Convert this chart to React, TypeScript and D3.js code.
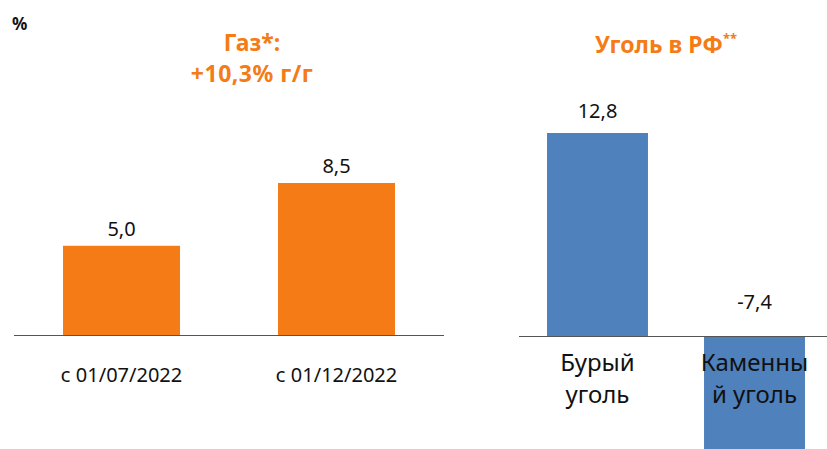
import React from "react";
import * as d3 from "d3";

const gasCategories = ["с 01/07/2022", "с 01/12/2022"];
const gasValues = [5.0, 8.5];
const coalCategories = [["Бурый", "уголь"], ["Каменны", "й уголь"]];
const coalValues = [12.8, -7.4];

const W = 827;
const H = 449;
const ORANGE = "#F47B16";
const BLUE = "#4F81BD";
const fmt = (v: number) => v.toFixed(1).replace(".", ",");

export default function App() {
  const xGas = d3.scaleBand<string>().domain(gasCategories).range([14, 444]).paddingInner(0.456).paddingOuter(0.228);
  const yGas = d3.scaleLinear().domain([0, 8.5]).range([335.5, 183]);
  const coalKeys = coalCategories.map((c) => c.join(" "));
  const xCoal = d3.scaleBand<string>().domain(coalKeys).range([519, 833]).paddingInner(0.357).paddingOuter(0.1785);
  const yCoal = d3.scaleLinear().domain([0, 12.8]).range([336.5, 133]);
  const font = "'Noto Sans', 'Open Sans', sans-serif";

  return (
    <svg width={W} height={H} style={{ position: "absolute", left: 0, top: 0, background: "#fff" }} fontFamily={font}>
      <text x={12} y={30} fontSize={17} fontWeight="bold" fill="#111">%</text>
      <text x={252} y={51} fontSize={23} fontWeight="bold" fill={ORANGE} textAnchor="middle">Газ*:</text>
      <text x={252} y={82} fontSize={23} fontWeight="bold" fill={ORANGE} textAnchor="middle" letterSpacing={0.5}>+10,3% г/г</text>
      <text x={595} y={53} fontSize={23} fontWeight="bold" fill={ORANGE}>
        Уголь в РФ<tspan fontSize={13} dy={-10}>**</tspan>
      </text>

      {gasValues.map((v, i) => {
        const c = gasCategories[i];
        const x = xGas(c)!;
        const bw = xGas.bandwidth();
        return (
          <g key={c}>
            <rect x={x} y={yGas(v)} width={bw} height={yGas(0) - yGas(v)} fill={ORANGE} />
            <text x={x + bw / 2} y={yGas(v) - 10} fontSize={20} textAnchor="middle" fill="#111">{fmt(v)}</text>
            <text x={x + bw / 2} y={382} fontSize={20} textAnchor="middle" fill="#111">{c}</text>
          </g>
        );
      })}
      <line x1={14} x2={444} y1={335.5} y2={335.5} stroke="#555" strokeWidth={1.2} />

      {coalValues.map((v, i) => {
        const k = coalKeys[i];
        const x = xCoal(k)!;
        const bw = xCoal.bandwidth();
        const y0 = yCoal(Math.max(0, v));
        const y1 = yCoal(Math.min(0, v));
        const labelY = v >= 0 ? yCoal(v) - 15 : yCoal(0) - 28;
        return (
          <g key={k}>
            <rect x={x} y={y0} width={bw} height={y1 - y0} fill={BLUE} />
            <text x={x + bw / 2} y={labelY} fontSize={20} textAnchor="middle" fill="#111">{fmt(v)}</text>
            <text x={x + bw / 2} y={371} fontSize={24} textAnchor="middle" fill="#111">{coalCategories[i][0]}</text>
            <text x={x + bw / 2} y={403} fontSize={24} textAnchor="middle" fill="#111">{coalCategories[i][1]}</text>
          </g>
        );
      })}
      <line x1={519} x2={827} y1={336.5} y2={336.5} stroke="#555" strokeWidth={1.2} />
    </svg>
  );
}
